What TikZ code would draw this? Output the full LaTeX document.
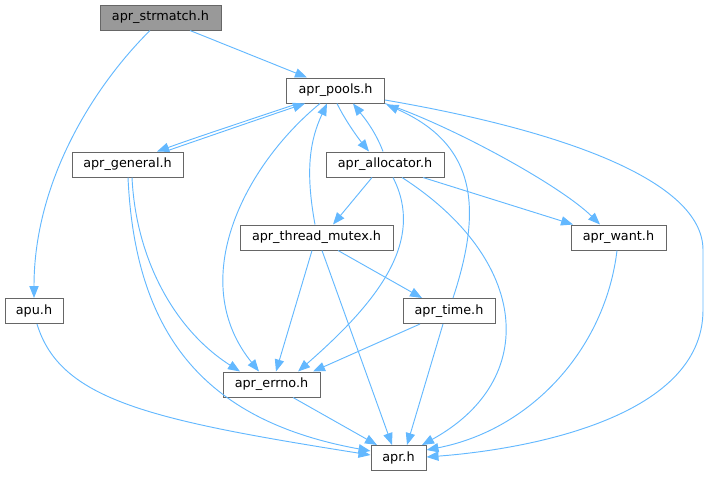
\documentclass[tikz,border=0pt]{standalone}
\usepackage{fontspec}
\setmainfont{DejaVu Sans}
\usetikzlibrary{arrows.meta,calc}
\definecolor{edgeblue}{HTML}{63B8FF}
\definecolor{boxborder}{HTML}{666666}
\definecolor{boxgray}{HTML}{999999}
\begin{document}
\begin{tikzpicture}[x=0.75pt,y=-0.75pt,
  hbox/.style={draw=boxborder,fill=white,line width=0.75pt,minimum height=18.75pt,inner sep=0pt,font=\fontsize{9.6pt}{11pt}\selectfont},
  cur/.style={hbox,fill=boxgray},
  edge/.style={draw=edgeblue,line width=0.7pt,-{Triangle[length=9pt,width=7pt]}}]
\useasboundingbox (0,0) rectangle (709,476);
\node[cur,minimum width=90.75pt] (sm) at (160.5,17.5) {apr\_strmatch.h};
\node[hbox,minimum width=73.5pt] (pools) at (335.5,90.5) {apr\_pools.h};
\node[hbox,minimum width=83.25pt] (gen) at (127.5,164.5) {apr\_general.h};
\node[hbox,minimum width=88.5pt] (alloc) at (385,164.5) {apr\_allocator.h};
\node[hbox,minimum width=114.75pt] (tm) at (316.5,237.5) {apr\_thread\_mutex.h};
\node[hbox,minimum width=71.25pt] (want) at (618.5,237.5) {apr\_want.h};
\node[hbox,minimum width=43.5pt] (apu) at (34,311) {apu.h};
\node[hbox,minimum width=69pt] (time) at (449,311) {apr\_time.h};
\node[hbox,minimum width=72.75pt] (errno) at (271.5,384.5) {apr\_errno.h};
\node[hbox,minimum width=41.25pt] (apr) at (398.5,458) {apr.h};

% apr_strmatch.h
\draw[edge] ($(sm.south)+(-10.5,0)$) .. controls (95,85) and (34,180) .. (apu.north);
\draw[edge] ($(sm.south)+(29.5,0)$) -- ($(pools.north)+(-28.5,0)$);
% apr_pools.h <-> apr_general.h
\draw[edge] ($(pools.south)+(-37.5,0)$) .. controls (255,118) and (200,136) .. ($(gen.north)+(29.5,0)$);
\draw[edge] ($(gen.north)+(37.5,0)$) .. controls (210,136) and (262,118) .. ($(pools.south)+(-30.5,0)$);
% apr_pools.h <-> apr_allocator.h
\draw[edge] ($(pools.south)+(1.5,0)$) .. controls (345,120) and (358,138) .. ($(alloc.north)+(-16,0)$);
\draw[edge] ($(alloc.north)+(-2,0)$) .. controls (375,130) and (362,115) .. ($(pools.south)+(17.5,0)$);
% apr_pools.h -> others
\draw[edge] ($(pools.south)+(-15.5,0)$) .. controls (245,165) and (185,280) .. ($(errno.north)+(-12.5,0)$);
\draw[edge] (pools.south east) .. controls (450,125) and (560,185) .. ($(want.north)+(-18.5,0)$);
\draw[edge] ($(pools.east)+(0,9.5)$) .. controls (560,130) and (703,180) .. (703,250) -- (703,310) .. controls (703,420) and (520,450) .. ($(apr.east)+(0,-1)$);
% apr_want.h
\draw[edge] ($(want.south)+(-1.5,0)$) .. controls (605,350) and (530,430) .. ($(apr.east)+(0,-8)$);
% back to apr_pools.h
\draw[edge] ($(tm.north)+(-1.5,0)$) .. controls (305,170) and (310,140) .. ($(pools.south)+(-8.5,0)$);
\draw[edge] ($(time.north)+(4,0)$) .. controls (482,210) and (478,145) .. ($(pools.south east)+(1.5,1)$);
% apr_general.h
\draw[edge] ($(gen.south)+(4.5,0)$) .. controls (136,260) and (175,330) .. ($(errno.north)+(-31.5,0)$);
\draw[edge] ($(gen.south)+(0.5,0)$) .. controls (135,330) and (200,420) .. ($(apr.west)+(0,-7)$);
% apu.h
\draw[edge] ($(apu.south)+(3,0)$) .. controls (60,400) and (150,420) .. ($(apr.west)+(0,-3)$);
% apr_errno.h
\draw[edge] ($(errno.south)+(21.5,0)$) -- ($(apr.north)+(-21.5,0)$);
% apr_thread_mutex.h
\draw[edge] ($(tm.south)+(-4.5,0)$) -- ($(errno.north)+(4.5,0)$);
\draw[edge] ($(tm.south)+(5.5,0)$) -- ($(apr.north)+(-6.5,0)$);
\draw[edge] ($(tm.south)+(21.5,0)$) -- ($(time.north)+(-27,0)$);
% apr_time.h
\draw[edge] ($(time.south)+(-29,0)$) -- ($(errno.north)+(41.5,0)$);
\draw[edge] ($(time.south)+(-6,0)$) -- ($(apr.north)+(8.5,0)$);
% apr_allocator.h
\draw[edge] ($(alloc.south)+(-13,0)$) -- ($(tm.north)+(16.5,0)$);
\draw[edge] ($(alloc.south)+(8,0)$) .. controls (425,240) and (380,300) .. ($(errno.north)+(26.5,0)$);
\draw[edge] ($(alloc.south)+(17,0)$) .. controls (530,260) and (540,380) .. ($(apr.north)+(23.5,0)$);
\draw[edge] ($(alloc.south)+(38,0)$) -- ($(want.north)+(-45.5,0)$);
\end{tikzpicture}
\end{document}
